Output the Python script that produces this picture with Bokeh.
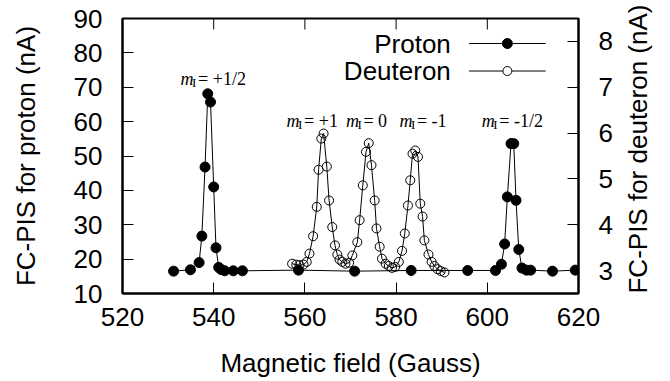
import math
from bokeh.plotting import figure
from bokeh.models import Range1d, LinearAxis, FixedTicker, ColumnDataSource
from bokeh.core.properties import value
from bokeh.embed import file_html
from bokeh.resources import INLINE

# ---- data ----
proton_field = [531.2, 534.9, 536.8, 537.4, 538.1, 538.7, 539.3, 540.0, 540.5, 541.1,
                541.6, 542.4, 544.3, 546.3, 558.6, 570.9, 583.3, 595.7, 601.8, 603.1,
                603.8, 604.4, 605.2, 605.8, 606.3, 606.9, 607.6, 608.6, 609.5, 614.3, 619.3]
proton_fc = [16.5, 16.9, 19.0, 26.7, 46.8, 68.1, 65.7, 41.0, 23.3, 17.6,
             17.0, 16.6, 16.6, 16.6, 16.8, 16.5, 16.7, 16.7, 16.7, 18.5,
             24.4, 38.1, 53.6, 53.6, 37.1, 22.8, 17.4, 16.8, 16.8, 16.5, 16.8]

deut_field = [557.2, 558.1, 558.8, 559.7, 560.4, 561.0, 561.8, 562.6, 563.0, 563.6,
              564.1, 564.8, 565.3, 566.0, 566.6, 567.1, 567.6, 568.2, 568.9, 569.7,
              570.4, 571.5, 572.0, 572.7, 573.4, 574.0, 574.6, 575.3, 575.7, 576.4,
              576.9, 577.7, 578.4, 579.1, 579.8, 580.6, 581.3, 581.9, 582.6, 583.1,
              583.6, 584.2, 584.8, 585.3, 585.8, 586.2, 587.1, 587.8, 588.4, 589.1,
              589.8, 590.6]
deut_fc = [3.15, 3.13, 3.12, 3.13, 3.19, 3.37, 3.75, 4.39, 5.20, 5.88,
           5.99, 5.27, 4.53, 3.95, 3.55, 3.35, 3.24, 3.19, 3.15, 3.17,
           3.33, 3.62, 4.10, 4.86, 5.59, 5.78, 5.30, 4.53, 3.92, 3.52,
           3.26, 3.15, 3.10, 3.06, 3.08, 3.19, 3.43, 3.81, 4.42, 4.97,
           5.55, 5.62, 5.48, 4.46, 4.18, 3.66, 3.35, 3.19, 3.10, 3.03,
           2.99, 2.96]

x_ticks = [520, 540, 560, 580, 600, 620]
left_ticks = [10, 20, 30, 40, 50, 60, 70, 80, 90]
right_ticks = [3, 4, 5, 6, 7, 8]

label_field = [540.4, 562.1, 574.0, 586.4, 606.0]
label_fc = [72.5, 60.2, 60.2, 60.2, 60.2]
label_values = ["+1/2", "+1", "0", "-1", "-1/2"]

series_names = ["Proton", "Deuteron"]

SANS = "Liberation Sans"
SERIF = "Liberation Serif"
FS = "26px"

XR = (520, 620)
YR = (10, 90)
YR2 = (2.5, 8.5)

p = figure(width=670, height=381, x_range=Range1d(*XR), y_range=Range1d(*YR),
           output_backend="svg", toolbar_location=None,
           min_border_left=122, min_border_right=89, min_border_top=18, min_border_bottom=88)
p.extra_y_ranges = {"deut": Range1d(*YR2)}
p.grid.visible = False
p.outline_line_color = "black"
p.outline_line_width = 2
p.background_fill_color = "white"
p.border_fill_color = "white"


def style(ax, ticks):
    ax.ticker = FixedTicker(ticks=ticks)
    ax.major_tick_in = 11
    ax.major_tick_out = 0
    ax.minor_tick_in = 0
    ax.minor_tick_out = 0
    ax.major_tick_line_color = "black"
    ax.major_tick_line_width = 1
    ax.axis_line_color = "black"
    ax.axis_line_width = 2
    ax.major_label_text_font = SANS
    ax.major_label_text_font_size = FS
    ax.major_label_text_color = "black"
    ax.axis_label_text_font = SANS
    ax.axis_label_text_font_size = FS
    ax.axis_label_text_font_style = "normal"
    ax.axis_label_text_color = "black"


xa = p.xaxis[0]
style(xa, x_ticks)
xa.axis_label = "Magnetic field (Gauss)"
xa.major_label_standoff = 14
xa.axis_label_standoff = 19

ya = p.yaxis[0]
style(ya, left_ticks)
ya.axis_label = "FC-PIS for proton (nA)"
ya.major_label_standoff = 20
ya.axis_label_standoff = 30

ra = LinearAxis(y_range_name="deut")
style(ra, right_ticks)
ra.major_label_standoff = 20
ra.axis_label = "FC-PIS for deuteron (nA)"
ra.axis_label_orientation = math.pi / 2
ra.axis_label_align = "start"
ra.axis_label_standoff = 22
p.add_layout(ra, "right")

# mirrored ticks on the top edge
p.ray(x=x_ticks, y=[YR[1]] * len(x_ticks), length=11, length_units="screen",
      angle=-math.pi / 2, line_color="black", line_width=1)

# ---- data ----
p.line(proton_field, proton_fc, line_color="black", line_width=1)
p.scatter(proton_field, proton_fc, size=10, marker="circle",
          fill_color="black", line_color="black")
p.line(deut_field, deut_fc, y_range_name="deut", line_color="black", line_width=1)
p.scatter(deut_field, deut_fc, y_range_name="deut", size=9, marker="circle",
          fill_color=None, line_color="black", line_width=1)

# ---- peak annotations  m_I = value ----
FSZ = 18
W = {" ": 0.25, "=": 0.564, "+": 0.564, "-": 0.333, "1": 0.5, "2": 0.5, "0": 0.5, "/": 0.278}
rest_start = 17.5
rest = [" = " + v for v in label_values]
totals = [rest_start + sum(W[c] for c in r) * FSZ for r in rest]
m_off = [-t / 2 for t in totals]
i_off = [-t / 2 + 11.5 for t in totals]
r_off = [-t / 2 + rest_start for t in totals]
src = ColumnDataSource(dict(x=label_field, y=label_fc, rest=rest, m=["m"] * 5, i=["I"] * 5,
                            mo=m_off, io=i_off, ro=r_off))
p.text(x="x", y="y", text="m", source=src, x_offset="mo", text_font=value(SERIF),
       text_font_style="italic", text_font_size="18px", text_baseline="alphabetic",
       text_align="left", text_color="black")
p.text(x="x", y="y", text="i", source=src, x_offset="io", y_offset=4, text_font=value(SERIF),
       text_font_size="13px", text_baseline="alphabetic", text_align="left", text_color="black")
p.text(x="x", y="y", text="rest", source=src, x_offset="ro", text_font=value(SERIF),
       text_font_size=f"{FSZ}px", text_baseline="alphabetic", text_align="left",
       text_color="black")

# ---- legend (label left, sample right), placed by fractions of the frame ----
x0, x1 = XR
y0, y1 = YR
lx_text = x0 + 0.720 * (x1 - x0)
lx_a = x0 + 0.760 * (x1 - x0)
lx_b = x0 + 0.928 * (x1 - x0)
lx_m = (lx_a + lx_b) / 2
ly = [y0 + 0.909 * (y1 - y0), y0 + 0.809 * (y1 - y0)]
p.text(x=[lx_text, lx_text], y=ly, text=series_names, text_font=value(SANS),
       text_font_size=FS, text_align="right", text_baseline="middle", text_color="black")
p.segment(x0=[lx_a, lx_a], y0=ly, x1=[lx_b, lx_b], y1=ly, line_color="black", line_width=1)
p.scatter([lx_m], [ly[0]], size=10, marker="circle", fill_color="black", line_color="black")
p.scatter([lx_m], [ly[1]], size=9, marker="circle", fill_color="white", line_color="black")

open("out.html", "w").write(file_html(p, INLINE))
